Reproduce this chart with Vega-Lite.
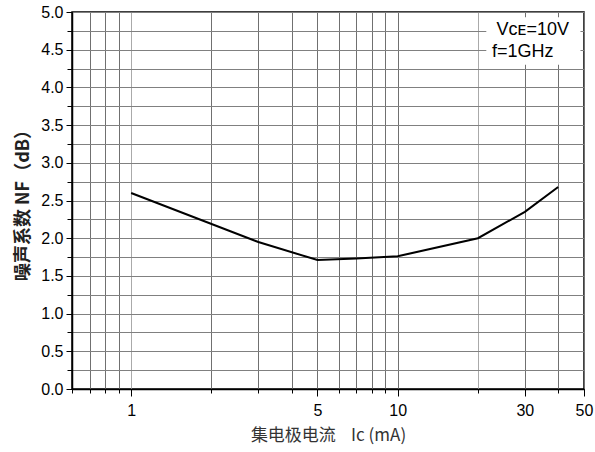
{
  "$schema": "https://vega.github.io/schema/vega-lite/v6.json",
  "width": 512,
  "height": 377,
  "autosize": {"type": "none"},
  "padding": {"left": 72, "top": 12, "right": 11, "bottom": 63},
  "background": "white",
  "config": {
    "view": {"stroke": "black", "strokeWidth": 1.5},
    "font": "Liberation Sans"
  },
  "datasets": {
    "nf": [
      {"ic": 1, "nf": 2.6},
      {"ic": 3, "nf": 1.95},
      {"ic": 5, "nf": 1.71},
      {"ic": 7, "nf": 1.73},
      {"ic": 10, "nf": 1.76},
      {"ic": 20, "nf": 2.0},
      {"ic": 30, "nf": 2.35},
      {"ic": 40, "nf": 2.68}
    ],
    "box": [{"x1": 21.5, "x2": 48.5, "y1": 4.3, "y2": 4.93}],
    "labels": [
      {"x": 23.5, "y": 4.7, "t": "Vᴄᴇ=10V"},
      {"x": 22.6, "y": 4.4, "t": "f=1GHz"}
    ]
  },
  "resolve": {"axis": {"x": "independent", "y": "independent"}},
  "layer": [
    {
      "data": {"name": "box"},
      "mark": {"type": "rect", "fill": "white", "stroke": null},
      "encoding": {
        "x": {
          "field": "x1", "type": "quantitative",
          "scale": {"type": "log", "domain": [0.6, 50], "nice": false},
          "axis": {
            "orient": "bottom",
            "values": [0.6, 0.7, 0.8, 0.9, 1, 2, 3, 4, 5, 6, 7, 8, 9, 10, 20, 30, 40, 50],
            "grid": true, "gridColor": {"condition": {"test": "datum.value == 1 || datum.value == 20", "value": "#aaaaaa"}, "value": "#707070"},
            "gridWidth": 1, "gridOpacity": 1,
            "labels": false, "domain": false, "title": null,
            "ticks": true, "tickSize": 4, "tickColor": "black", "tickWidth": 1
          }
        },
        "x2": {"field": "x2"},
        "y": {
          "field": "y1", "type": "quantitative",
          "scale": {"domain": [0, 5], "nice": false},
          "axis": {
            "orient": "left",
            "values": [0, 0.25, 0.5, 0.75, 1, 1.25, 1.5, 1.75, 2, 2.25, 2.5, 2.75, 3, 3.25, 3.5, 3.75, 4, 4.25, 4.5, 4.75, 5],
            "grid": true, "gridColor": "#808080", "gridWidth": 1, "gridOpacity": 1,
            "labels": false, "domain": false, "title": null,
            "ticks": true, "tickSize": 5, "tickColor": "black", "tickWidth": 1
          }
        },
        "y2": {"field": "y2"}
      }
    },
    {
      "data": {"name": "nf"},
      "mark": {"type": "line", "color": "black", "strokeWidth": 2},
      "encoding": {
        "x": {
          "field": "ic", "type": "quantitative",
          "scale": {"type": "log", "domain": [0.6, 50], "nice": false},
          "axis": {
            "orient": "bottom",
            "values": [1, 5, 10, 30, 50],
            "grid": false, "domain": true, "domainColor": "black", "domainWidth": 1.5,
            "ticks": true, "tickSize": 7, "tickColor": "black", "tickWidth": 1,
            "labelFontSize": 16, "labelColor": "black", "labelPadding": 6, "labelFont": "Liberation Sans",
            "labelFlush": false,
            "title": "集电极电流\u00a0\u00a0\u00a0\u00a0Ic (mA)", "titleFont": "Noto Sans CJK SC", "titleFontSize": 17,
            "titleFontWeight": "normal", "titleColor": "#333333", "titlePadding": 9
          }
        },
        "y": {
          "field": "nf", "type": "quantitative",
          "scale": {"domain": [0, 5], "nice": false},
          "axis": {
            "orient": "left",
            "values": [0, 0.5, 1, 1.5, 2, 2.5, 3, 3.5, 4, 4.5, 5],
            "format": ".1f",
            "grid": false, "domain": true, "domainColor": "black", "domainWidth": 1.5,
            "ticks": true, "tickSize": 6, "tickColor": "black", "tickWidth": 1,
            "labelFontSize": 16, "labelColor": "black", "labelPadding": 3, "labelFont": "Liberation Sans",
            "labelFlush": false,
            "title": "噪声系数 NF（dB）", "titleFont": "Noto Sans CJK SC", "titleFontSize": 18,
            "titleFontWeight": "bold", "titleColor": "#222222", "titlePadding": 8
          }
        }
      }
    },
    {
      "data": {"name": "labels"},
      "mark": {"type": "text", "align": "left", "baseline": "alphabetic", "fontSize": 18, "font": "Liberation Sans", "color": "black"},
      "encoding": {
        "x": {"field": "x", "type": "quantitative", "scale": {"type": "log", "domain": [0.6, 50], "nice": false}, "axis": null},
        "y": {"field": "y", "type": "quantitative", "scale": {"domain": [0, 5], "nice": false}, "axis": null},
        "text": {"field": "t"}
      }
    }
  ]
}
